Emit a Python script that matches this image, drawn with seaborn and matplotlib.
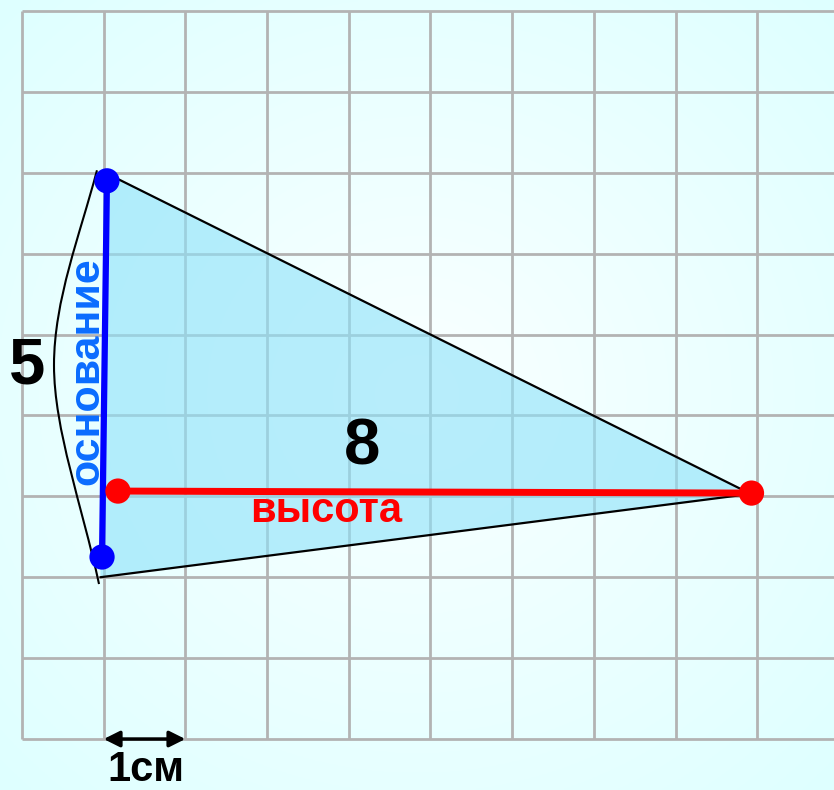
import numpy as np
import pandas as pd
import matplotlib.pyplot as plt
import seaborn as sns
from matplotlib.path import Path
from matplotlib.patches import PathPatch, Polygon

# Вершины треугольника (в клетках, 1 клетка = 1 см)
tri_x = [1.0, 8.92, 0.96]
tri_y = [7.01, 3.03, 2.0]

# основание (синий) и высота (красный)
base_x = [1.04, 0.98]
base_y = [6.90, 2.25]
height_x = [1.175, 8.93]
height_y = [3.065, 3.04]

# дуга-скобка у основания (точки кривой Безье)
brace_x = [0.918, 0.710, 0.392, 0.392, 0.392, 0.735, 0.943]
brace_y = [7.03, 6.23, 5.426, 4.623, 3.820, 2.892, 1.916]

n_cols = 9
n_rows = 9

sns.set_theme(style="white")
plt.rcParams['font.family'] = ['Liberation Sans', 'DejaVu Sans']

fig = plt.figure(figsize=(8.34, 7.9), dpi=100)
ax = fig.add_axes([0, 0, 1, 1])
xmin, xmax = -0.269, 9.94
ymin, ymax = -0.630, 9.135
ax.set_xlim(xmin, xmax)
ax.set_ylim(ymin, ymax)
ax.axis('off')

# фон: светло-голубой градиент
gx, gy = np.meshgrid(np.linspace(-1, 1, 300), np.linspace(-1, 1, 300))
r = np.clip(np.sqrt(gx ** 2 + gy ** 2) / 1.414, 0, 1)
white = np.array([250, 255, 255]) / 255
cyan = np.array([222, 255, 255]) / 255
bg = white[None, None, :] * (1 - r[..., None]) + cyan[None, None, :] * r[..., None]
ax.imshow(bg, extent=[xmin, xmax, ymin, ymax], aspect='auto', zorder=0)

# сетка
grid_c = '#b3b3b3'
for i in range(n_cols + 1):
    ax.plot([i, i], [0, n_rows], color=grid_c, lw=2.0, zorder=1, solid_capstyle='butt')
for j in range(n_rows + 1):
    ax.plot([0, xmax], [j, j], color=grid_c, lw=2.0, zorder=1, solid_capstyle='butt')

# треугольник
ax.add_patch(Polygon(list(zip(tri_x, tri_y)), closed=True, facecolor='#8fe2fa',
                     alpha=0.62, edgecolor='none', zorder=2))
edges = pd.DataFrame({'x': [tri_x[0], tri_x[1], tri_x[2]],
                      'y': [tri_y[0], tri_y[1], tri_y[2]]})
sns.lineplot(data=edges, x='x', y='y', sort=False, color='black', lw=1.6,
             ax=ax, zorder=3, estimator=None)

codes = [Path.MOVETO] + [Path.CURVE4] * 6
brace = Path(list(zip(brace_x, brace_y)), codes)
ax.add_patch(PathPatch(brace, facecolor='none', edgecolor='black', lw=1.5, zorder=3))

# основание
sns.lineplot(x=base_x, y=base_y, sort=False, color='#0000ff', lw=4.5, ax=ax,
             zorder=4, estimator=None)
# высота
sns.lineplot(x=height_x, y=height_y, sort=False, color='#ff0000', lw=5.0, ax=ax,
             zorder=5, estimator=None)
sns.scatterplot(x=base_x, y=base_y, color='#0000ff', s=330, edgecolor='none',
                ax=ax, zorder=6)
sns.scatterplot(x=height_x, y=height_y, color='#ff0000', s=330, edgecolor='none',
                ax=ax, zorder=6)

# подписи
ax.text(0.06, 4.39, '5', fontsize=47, fontweight='bold', color='black',
        ha='center', va='baseline', zorder=7)
ax.text(0.80, 4.55, 'основание', fontsize=31, fontweight='bold', color='#0a6cff',
        rotation=90, ha='center', va='center', zorder=7)
ax.text(4.163, 3.39, '8', fontsize=47, fontweight='bold', color='black',
        ha='center', va='baseline', zorder=7)
ax.text(3.72, 2.68, 'высота', fontsize=30, fontweight='bold', color='#ff0000',
        ha='center', va='baseline', zorder=7)
ax.text(1.52, -0.52, '1см', fontsize=30, fontweight='bold', color='black',
        ha='center', va='baseline', zorder=7)

ax.annotate('', xy=(2.0, 0.0), xytext=(1.0, 0.0),
            arrowprops=dict(arrowstyle='<|-|>', color='black', lw=2.5,
                            mutation_scale=24, shrinkA=0, shrinkB=0),
            zorder=7)

fig.savefig('out.png', dpi=100)
